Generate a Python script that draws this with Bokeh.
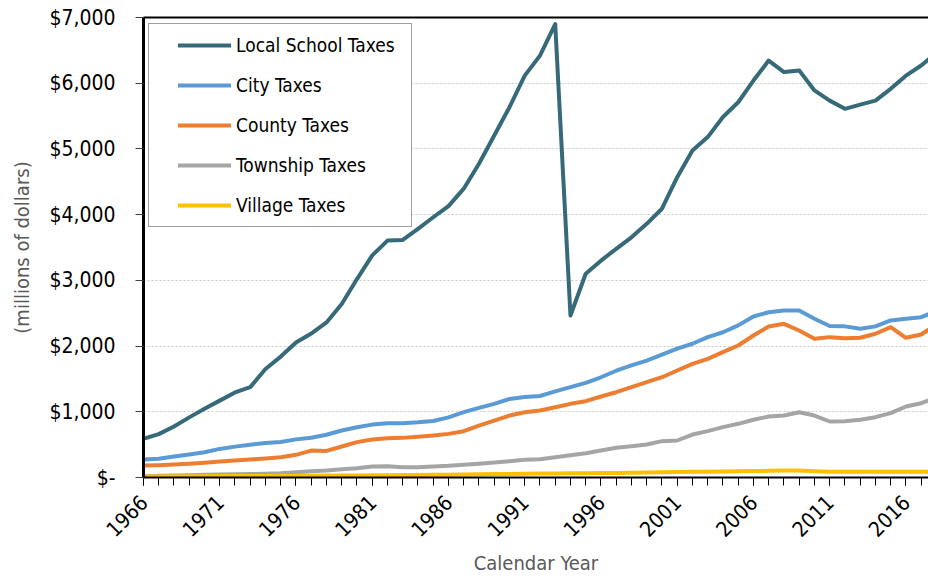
import math
from bokeh.plotting import figure
from bokeh.models import (FixedTicker, LinearAxis, Legend, LegendItem, Range1d)
from bokeh.embed import file_html
from bokeh.resources import INLINE

years = list(range(1966, 2019))

local_school = [590, 660, 775, 915, 1045, 1170, 1295, 1375, 1650, 1840,
                2055, 2190, 2360, 2640, 3020, 3380, 3605, 3615, 3785, 3960,
                4130, 4395, 4775, 5205, 5635, 6115, 6420, 6900, 2465, 3100,
                3300, 3480, 3655, 3860, 4090, 4570, 4975, 5180, 5485, 5710,
                6040, 6345, 6170, 6195, 5890, 5735, 5610, 5675, 5735, 5915,
                6115, 6270, 6460]

city = [275, 285, 320, 350, 385, 435, 470, 500, 525, 540,
        580, 605, 650, 715, 765, 805, 825, 827, 840, 860,
        915, 995, 1060, 1120, 1195, 1225, 1240, 1310, 1375, 1440,
        1525, 1625, 1705, 1780, 1870, 1960, 2035, 2135, 2210, 2315,
        2450, 2515, 2540, 2540, 2415, 2305, 2300, 2265, 2300, 2390,
        2415, 2440, 2530]

county = [183, 188, 198, 208, 223, 243, 259, 274, 289, 309,
          345, 410, 405, 472, 538, 578, 599, 603, 620, 639,
          664, 705, 790, 867, 943, 994, 1019, 1070, 1121, 1161,
          1233, 1298, 1374, 1450, 1526, 1628, 1730, 1806, 1907, 2009,
          2161, 2298, 2339, 2237, 2110, 2136, 2120, 2126, 2187, 2288,
          2126, 2176, 2330]

township = [20, 25, 30, 35, 40, 45, 48, 52, 58, 66,
            81, 96, 106, 127, 142, 167, 172, 157, 157, 167,
            177, 193, 208, 228, 248, 269, 279, 309, 340, 370,
            411, 452, 477, 502, 553, 563, 654, 705, 766, 817,
            878, 928, 943, 994, 943, 852, 857, 878, 918, 979,
            1080, 1131, 1220]

village = [15, 16, 18, 19, 20, 21, 22, 23, 24, 25,
           26, 28, 29, 31, 32, 34, 35, 37, 39, 41,
           43, 46, 49, 52, 55, 57, 59, 61, 63, 65,
           67, 70, 73, 76, 80, 83, 86, 89, 92, 95,
           98, 102, 105, 105, 96, 88, 88, 88, 88, 88,
           87, 87, 88]

series_names = ["Local School Taxes", "City Taxes", "County Taxes",
                "Township Taxes", "Village Taxes"]
series_colors = ["#376A79", "#5B9BD5", "#ED7D31", "#A5A5A5", "#FFC000"]
series_values = [local_school, city, county, township, village]

y_ticks = [0, 1000, 2000, 3000, 4000, 5000, 6000, 7000]
y_tick_labels = ["$-", "$1,000", "$2,000", "$3,000", "$4,000", "$5,000",
                 "$6,000", "$7,000"]
x_label_years = list(range(1966, 2017, 5))

FONT = "DejaVu Sans Condensed"

p = figure(width=928, height=578, output_backend="svg", toolbar_location=None,
           x_range=Range1d(1966, 2017.48), y_range=Range1d(0, 7000),
           min_border_left=143, min_border_right=0, min_border_top=17,
           min_border_bottom=101)
p.outline_line_color = None
p.background_fill_color = "white"
p.border_fill_color = "white"

renderers = []
for name, col, vals in zip(series_names, series_colors, series_values):
    r = p.line(years, vals, line_color=col, line_width=4, line_join="round",
               line_cap="round")
    renderers.append(r)

# x axis
xa = p.xaxis[0]
xa.ticker = FixedTicker(ticks=x_label_years, minor_ticks=years)
xa.major_label_orientation = math.pi / 4
xa.major_tick_out = 8
xa.major_tick_in = 0
xa.minor_tick_out = 8
xa.minor_tick_in = 0
xa.major_tick_line_color = "#000000"
xa.minor_tick_line_color = "#000000"
xa.axis_line_color = "#000000"
xa.axis_line_width = 2
xa.major_label_text_font = FONT
xa.major_label_text_font_size = "21px"
xa.major_label_text_color = "#000000"
xa.major_label_standoff = 13
xa.axis_label = "Calendar Year"
xa.axis_label_text_font = FONT
xa.axis_label_text_font_size = "20px"
xa.axis_label_text_font_style = "normal"
xa.axis_label_text_color = "#595959"
xa.axis_label_standoff = 4

# y axis
ya = p.yaxis[0]
ya.ticker = FixedTicker(ticks=y_ticks)
ya.major_label_overrides = {t: l for t, l in zip(y_ticks, y_tick_labels)}
ya.major_tick_out = 8
ya.major_tick_in = 0
ya.minor_tick_line_color = None
ya.major_tick_line_color = "#404040"
ya.axis_line_color = "#000000"
ya.axis_line_width = 3
ya.major_label_text_font = FONT
ya.major_label_text_font_size = "21px"
ya.major_label_text_color = "#000000"
ya.major_label_standoff = 20
ya.axis_label = "(millions of dollars)"
ya.axis_label_text_font = FONT
ya.axis_label_text_font_size = "20px"
ya.axis_label_text_font_style = "normal"
ya.axis_label_text_color = "#595959"
ya.axis_label_standoff = 12

top_axis = LinearAxis(ticker=FixedTicker(ticks=[]), axis_line_width=2,
                      axis_line_color="#000000", major_tick_line_color=None,
                      minor_tick_line_color=None,
                      major_label_text_font_size="0px")
p.add_layout(top_axis, "above")

p.xgrid.grid_line_color = None
p.ygrid.ticker = FixedTicker(ticks=y_ticks)
p.ygrid.grid_line_color = "#C8C8C8"
p.ygrid.grid_line_dash = "2 2"
p.ygrid.grid_line_width = 1

legend = Legend(
    items=[LegendItem(label=n, renderers=[r]) for n, r in zip(series_names, renderers)],
    location=(5, 250),
    padding=10, spacing=18, glyph_width=53, glyph_height=20,
    label_height=20, label_width=165, label_standoff=5,
    label_text_font=FONT, label_text_font_size="19px",
    label_text_color="#000000",
    border_line_color="#404040", border_line_width=1,
    background_fill_color="white", background_fill_alpha=1.0,
    title="\u00a0", title_location="left", title_text_font_size="1px",
    title_standoff=18,
)
p.add_layout(legend, "center")

open("out.html", "w").write(file_html(p, INLINE))
